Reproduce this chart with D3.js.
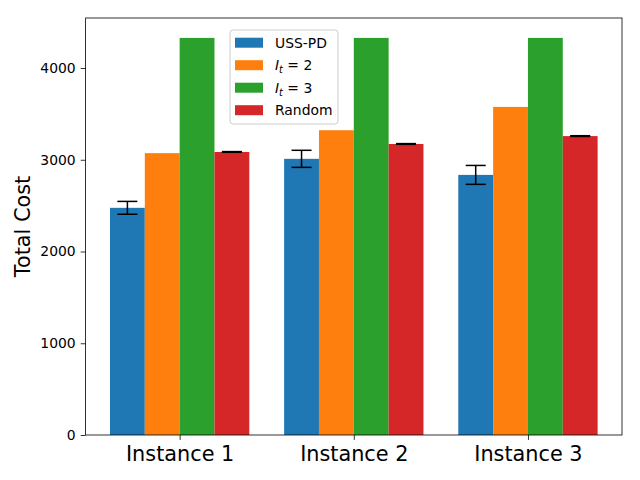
<!DOCTYPE html>
<html>
<head>
<meta charset="utf-8">
<script src="https://cdn.jsdelivr.net/npm/d3@7"></script>
<style>
  body { margin: 0; background: #fff; }
  text { font-family: "DejaVu Sans", sans-serif; }
</style>
</head>
<body>
<div id="chart"></div>
<script>
// chart data
const instances = ["Instance 1", "Instance 2", "Instance 3"];
const seriesNames = ["USS-PD", "It2", "It3", "Random"];
const seriesColors = ["#1f77b4", "#ff7f0e", "#2ca02c", "#d62728"];
const ussValues = [2476, 3010, 2835];
const ussErrors = [70, 93, 103];
const it2Values = [3072, 3322, 3576];
const it3Values = [4328, 4328, 4328];
const randomValues = [3085, 3172, 3258];
const randomErrors = [4, 4, 4];
const yTicks = [0, 1000, 2000, 3000, 4000];

const series = [
    { name: "USS-PD", values: ussValues, errors: ussErrors },
    { name: "It2", values: it2Values, errors: null },
    { name: "It3", values: it3Values, errors: null },
    { name: "Random", values: randomValues, errors: randomErrors }
];

const W = 640, H = 480;
const margin = { top: 18, right: 18, bottom: 45, left: 85.6 };
const width = W - margin.left - margin.right;
const height = H - margin.top - margin.bottom;

const svg = d3.select("#chart").append("svg")
    .attr("width", W).attr("height", H);

const g = svg.append("g")
    .attr("transform", `translate(${margin.left},${margin.top})`);

// matplotlib-style numeric x axis: groups at 0,1,2; bars 0.2 wide
const barW = 0.2;
const x = d3.scaleLinear().domain([-0.54, 2.54]).range([0, width]);
const y = d3.scaleLinear().domain([0, 4545]).range([height, 0]);

// bars
series.forEach((s, si) => {
    const offset = (si - 1.5) * barW;
    g.selectAll(".bar-" + si)
        .data(s.values)
        .enter().append("rect")
        .attr("x", (d, i) => x(i + offset - barW / 2))
        .attr("width", x(barW) - x(0))
        .attr("y", d => y(d))
        .attr("height", d => y(0) - y(d))
        .attr("fill", seriesColors[si]);

    if (s.errors) {
        s.values.forEach((v, i) => {
            const cx = x(i + offset);
            const e = s.errors[i];
            const eg = g.append("g").attr("stroke", "#000").attr("stroke-width", 1.5);
            eg.append("line").attr("x1", cx).attr("x2", cx)
                .attr("y1", y(v - e)).attr("y2", y(v + e));
            [v - e, v + e].forEach(c => {
                eg.append("line").attr("x1", cx - 10).attr("x2", cx + 10)
                    .attr("y1", y(c)).attr("y2", y(c));
            });
        });
    }
});

// axes
const yAxis = g.append("g")
    .call(d3.axisLeft(y).tickValues(yTicks).tickSize(4.9).tickPadding(5).tickFormat(d3.format("d")));
yAxis.selectAll("text").attr("font-size", "13.9px").attr("fill", "#000");

const xAxis = g.append("g")
    .attr("transform", `translate(0,${height})`)
    .call(d3.axisBottom(x).tickValues([0, 1, 2]).tickSize(4.9).tickPadding(6)
        .tickFormat(i => instances[i]));
xAxis.selectAll("text").attr("font-size", "20.8px").attr("fill", "#000");

[xAxis, yAxis].forEach(a => {
    a.select(".domain").remove();
    a.selectAll("line").attr("stroke", "#000").attr("stroke-width", 0.8);
    a.attr("font-family", null);
});

// frame
g.append("rect")
    .attr("width", width).attr("height", height)
    .attr("fill", "none").attr("stroke", "#000").attr("stroke-width", 0.8);

// y label
svg.append("text")
    .attr("transform", `translate(30,${margin.top + height / 2}) rotate(-90)`)
    .attr("text-anchor", "middle")
    .attr("font-size", "20.8px")
    .text("Total Cost");

// legend
const legend = svg.append("g").attr("transform", "translate(230,30)");
legend.append("rect")
    .attr("width", 108).attr("height", 94).attr("rx", 3)
    .attr("fill", "#fff").attr("fill-opacity", 0.8)
    .attr("stroke", "#ccc").attr("stroke-width", 1);

series.forEach((s, si) => {
    const ry = 12.7 + si * 22.5;
    legend.append("rect")
        .attr("x", 5).attr("y", ry - 5).attr("width", 28).attr("height", 10)
        .attr("fill", seriesColors[si]);
    const t = legend.append("text")
        .attr("x", 45).attr("y", ry + 5)
        .attr("font-size", "13.9px");
    if (s.name === "USS-PD" || s.name === "Random") {
        t.text(s.name);
    } else {
        t.append("tspan").attr("font-style", "italic").text("I");
        t.append("tspan").attr("font-style", "italic").attr("font-size", "9.7px")
            .attr("dy", 3).text("t");
        t.append("tspan").attr("dy", -3).text(s.name === "It2" ? " = 2" : " = 3");
    }
});
</script>
</body>
</html>
